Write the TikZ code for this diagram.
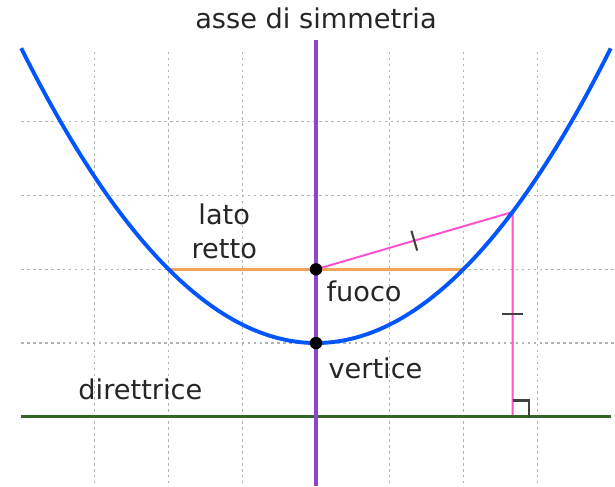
\documentclass[tikz,border=0pt]{standalone}
\usepackage{fontspec}
\setmainfont{DejaVu Sans}
\usetikzlibrary{calc}
\definecolor{parab}{RGB}{0,85,255}
\definecolor{axis}{RGB}{138,70,204}
\definecolor{latus}{RGB}{242,163,94}
\definecolor{dist}{RGB}{255,80,205}
\definecolor{direc}{RGB}{52,102,42}

\begin{document}
\begin{tikzpicture}[
    lbl/.style={inner sep=0pt, text=black!85, font=\fontsize{10.5}{13.5}\selectfont},
    gridline/.style={draw=black!30, line width=0.45pt, dash pattern=on 1pt off 1.3pt},
    dot/.style={circle, fill=black, inner sep=0pt, minimum size=4.8pt},
    tick/.style={draw=black!75, line width=0.8pt},
  ]
  \useasboundingbox (-4.2877,-1.9403) rectangle (4.0570,4.6540);
  % grid
  \foreach \x in {-3,-2,-1,1,2,3}
    \draw[gridline] (\x,3.95) -- (\x,-1.9403);
  \foreach \y in {0,1,2,3}
    \draw[gridline] (-4,\y) -- (4.0570,\y);

  \coordinate (V) at (0,0);
  \coordinate (F) at (0,1);
  \coordinate (P) at (8/3,16/9);
  \coordinate (Q) at (8/3,-1);
  \coordinate (L1) at (-2,1);
  \coordinate (L2) at (2,1);
  \coordinate (D1) at (-4,-1);
  \coordinate (D2) at (4,-1);
  \coordinate (A1) at (0,4.11);
  \coordinate (A2) at (0,-1.9403);

  \draw[dist, line width=0.75pt] (F) -- (P) -- (Q);
  \draw[latus, line width=1.15pt] (L1) -- (L2);
  \draw[direc, line width=1.3pt] (D1) -- (D2);
  \draw[parab, line width=1.5pt] plot[domain=-4:4, samples=120] (\x,{\x*\x/4});
  \draw[axis, line width=1.2pt] (A1) -- (A2);

  % equal distances and right angle
  \coordinate (m1) at ($(F)!0.5!(P)$);
  \coordinate (m2) at ($(P)!0.5!(Q)$);
  \draw[tick] ($(m1)!0.14cm!90:(P)$) -- ($(m1)!0.14cm!-90:(P)$);
  \draw[tick] ($(m2)+(-0.14,0)$) -- ($(m2)+(0.14,0)$);
  \draw[tick] ($(Q)+(0,0.22)$) -| ($(Q)+(0.22,0)$);

  \node[dot] (f) at (F) {};
  \node[dot] (v) at (V) {};

  \node[lbl, anchor=base] (title) at (0,4.27) {asse di simmetria};
  \node[lbl, anchor=base, align=center] (lato) at (-1.245,1.14) {lato\\retto};
  \node[lbl, anchor=base west] (fuoco) at (0.136,0.57) {fuoco};
  \node[lbl, anchor=base west] (vertice) at (0.163,-0.475) {vertice};
  \node[lbl, anchor=base west] (dir) at (-3.23,-0.773) {direttrice};
\end{tikzpicture}
\end{document}
